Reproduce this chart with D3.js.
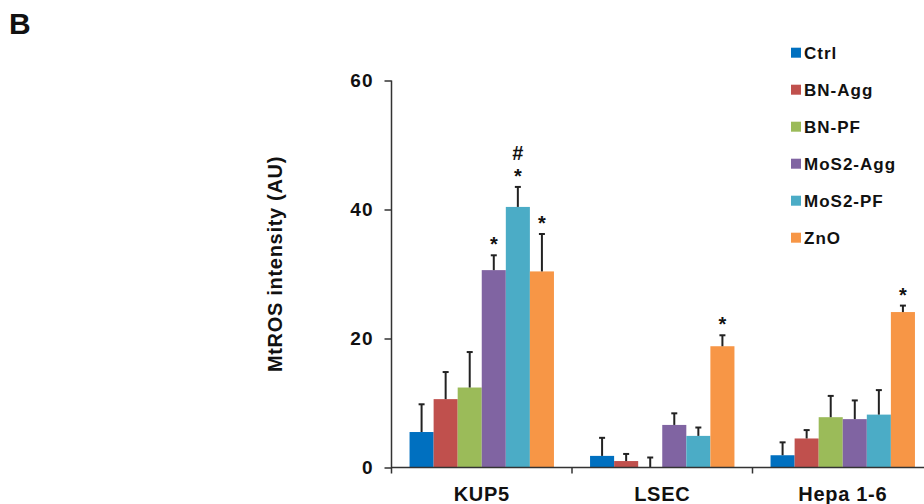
<!DOCTYPE html>
<html>
<head>
<meta charset="utf-8">
<script src="https://cdn.jsdelivr.net/npm/d3@7"></script>
<style>
  body { margin: 0; background: #fff; }
  text { font-family: "Liberation Sans", Arial, sans-serif; font-weight: bold; fill: #111; }
</style>
</head>
<body>
<div id="chart"></div>
<script>
var cells = ["KUP5", "LSEC", "Hepa 1-6"];
var groups = ["Ctrl", "BN-Agg", "BN-PF", "MoS2-Agg", "MoS2-PF", "ZnO"];
var colors = ["#0070C0", "#C0504D", "#9BBB59", "#8064A2", "#4BACC6", "#F79646"];
// mean values per cell type, in order of groups
var kup5 = [5.5, 10.6, 12.4, 30.6, 40.4, 30.4];
var lsec = [1.8, 1.0, 0.05, 6.6, 4.9, 18.8];
var hepa = [1.9, 4.5, 7.8, 7.5, 8.2, 24.1];
// upper error bars (SD)
var kup5Err = [4.3, 4.2, 5.5, 2.3, 3.1, 5.8];
var lsecErr = [2.8, 1.1, 1.5, 1.8, 1.3, 1.7];
var hepaErr = [2.0, 1.3, 3.3, 2.9, 3.8, 1.0];
// significance marks
var kup5Sig = ["", "", "", "*", "*#", "*"];
var lsecSig = ["", "", "", "", "", "*"];
var hepaSig = ["", "", "", "", "", "*"];
var yTicks = [0, 20, 40, 60];

var svgWidth = 924;
var svgHeight = 504;
var svg = d3.select("#chart").append("svg")
  .attr("width", svgWidth)
  .attr("height", svgHeight);

var values = [kup5, lsec, hepa];
var errs = [kup5Err, lsecErr, hepaErr];
var sigs = [kup5Sig, lsecSig, hepaSig];
var rows = [];
cells.forEach(function(c, i) {
  groups.forEach(function(g, j) {
    rows.push({cell: c, group: g, value: values[i][j], err: errs[i][j], sig: sigs[i][j], color: colors[j]});
  });
});

var x0 = d3.scaleBand().domain(cells).range([391.5, 933]).padding(0);
var x1 = d3.scaleBand().domain(groups)
  .range([x0.bandwidth() * 0.1, x0.bandwidth() * 0.9]).padding(0);
var y = d3.scaleLinear().domain([0, 60]).range([467.5, 80.5]);

svg.append("text")
  .attr("x", 9)
  .attr("y", 34)
  .style("font-size", "30px")
  .text("B");

// bars
svg.selectAll("rect.bar")
  .data(rows)
  .enter()
  .append("rect")
  .attr("class", "bar")
  .attr("x", d => x0(d.cell) + x1(d.group))
  .attr("y", d => y(d.value))
  .attr("width", x1.bandwidth())
  .attr("height", d => y(0) - y(d.value))
  .attr("fill", d => d.color);

// error bars, upper half only
var eb = svg.append("g").attr("stroke", "#222").attr("stroke-width", 2);
rows.forEach(function(d) {
  var cx = x0(d.cell) + x1(d.group) + x1.bandwidth() / 2;
  eb.append("line")
    .attr("x1", cx).attr("x2", cx)
    .attr("y1", y(d.value)).attr("y2", y(d.value + d.err));
  eb.append("line")
    .attr("x1", cx - 3).attr("x2", cx + 3)
    .attr("y1", y(d.value + d.err)).attr("y2", y(d.value + d.err));
});

// significance
rows.filter(d => d.sig).forEach(function(d) {
  var cx = x0(d.cell) + x1(d.group) + x1.bandwidth() / 2;
  var top = y(d.value + d.err);
  if (d.sig.indexOf("*") >= 0) {
    svg.append("text")
      .attr("x", cx).attr("y", top - 4)
      .attr("text-anchor", "middle")
      .style("font-size", "20px")
      .text("*");
  }
  if (d.sig.indexOf("#") >= 0) {
    svg.append("text")
      .attr("x", cx).attr("y", top - 27)
      .attr("text-anchor", "middle")
      .style("font-size", "20px")
      .text("#");
  }
});

// y axis
var yAxis = svg.append("g")
  .attr("transform", "translate(391.5,0)")
  .call(d3.axisLeft(y).tickValues(yTicks).tickSize(7).tickPadding(11));
yAxis.select(".domain").attr("d", "M0," + y(60) + "V" + (y(0) + 6));
yAxis.selectAll("line, path").attr("stroke", "#333").attr("stroke-width", 1.5);
yAxis.selectAll("text")
  .style("font-size", "19px")
  .style("letter-spacing", "1px")
  .style("font-family", "'Liberation Sans', Arial, sans-serif")
  .attr("fill", "#111");

// x axis
var xAxis = svg.append("g").attr("stroke", "#333").attr("stroke-width", 1.5);
xAxis.append("line")
  .attr("x1", 391.5).attr("x2", 933)
  .attr("y1", y(0)).attr("y2", y(0));
x0.domain().forEach(function(c, i) {
  if (i > 0) {
    xAxis.append("line")
      .attr("x1", x0(c)).attr("x2", x0(c))
      .attr("y1", y(0)).attr("y2", y(0) + 6);
  }
});
svg.selectAll("text.cat")
  .data(cells)
  .enter()
  .append("text")
  .attr("class", "cat")
  .attr("x", d => x0(d) + x0.bandwidth() / 2)
  .attr("y", 500.5)
  .attr("text-anchor", "middle")
  .style("font-size", "20px")
  .style("letter-spacing", "0.7px")
  .text(d => d);

svg.append("text")
  .attr("transform", "translate(282,264) rotate(-90)")
  .attr("text-anchor", "middle")
  .style("font-size", "20px")
  .style("letter-spacing", "0.7px")
  .text("MtROS intensity (AU)");

// legend
var legend = svg.selectAll("g.leg")
  .data(groups)
  .enter()
  .append("g")
  .attr("class", "leg")
  .attr("transform", (d, i) => "translate(791," + (52.7 + i * 37) + ")");
legend.append("rect")
  .attr("x", 0).attr("y", -5)
  .attr("width", 10).attr("height", 10)
  .attr("fill", (d, i) => colors[i]);
legend.append("text")
  .attr("x", 13).attr("y", 6)
  .style("font-size", "17px")
  .style("letter-spacing", "1px")
  .text(d => d);
</script>
</body>
</html>
